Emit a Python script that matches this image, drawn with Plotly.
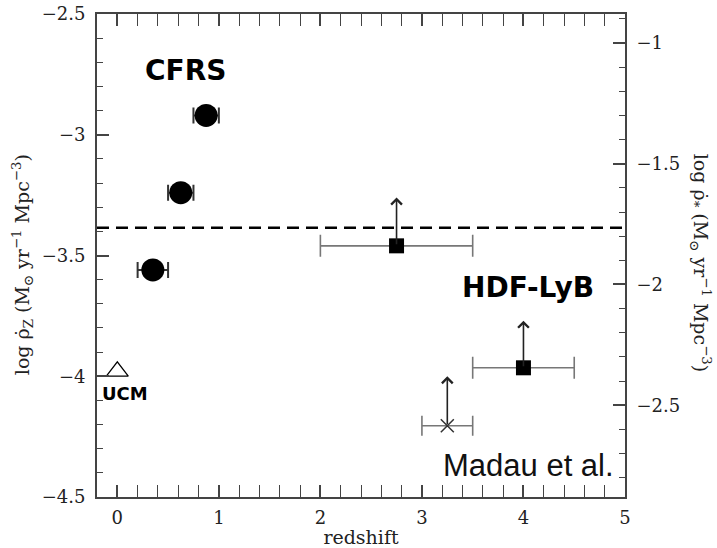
import plotly.graph_objects as go

# CFRS (Lilly et al.) redshift bins
cfrs_z = [0.35, 0.625, 0.875]
cfrs_zerr = [0.15, 0.125, 0.125]
cfrs_logrho = [-3.56, -3.24, -2.92]

# UCM local point
ucm_z = [0.0]
ucm_logrho = [-3.98]

# HDF Lyman-break lower limits
hdf_z = [2.75, 4.0]
hdf_zerr = [0.75, 0.5]
hdf_logrho = [-3.46, -3.965]
hdf_arrow_top = [-3.26, -3.77]

# extra lower limit (cross)
lim_z = [3.25]
lim_zerr = [0.25]
lim_logrho = [-4.205]
lim_arrow_top = [-4.0]

# horizontal dashed reference level
ref_level = -3.385

# conversion between the two vertical scales: log rho_* = log rho_Z + offset
scale_offset = 1.62
left_range = [-4.5, -2.5]
x_range = [-0.2, 5.0]

AX = "#444444"
TICKFONT = dict(family="DejaVu Serif", size=18, color="#222222")

fig = go.Figure()

fig.add_trace(go.Scatter(
    x=cfrs_z, y=cfrs_logrho, mode="markers",
    marker=dict(symbol="circle", size=23, color="black"),
    error_x=dict(type="data", array=cfrs_zerr, color="#333333", thickness=2, width=8),
    showlegend=False,
))

fig.add_trace(go.Scatter(
    x=ucm_z, y=ucm_logrho, mode="markers",
    marker=dict(symbol="triangle-up-open", size=19, color="black", line=dict(width=1.3, color="black")),
    showlegend=False,
))

fig.add_trace(go.Scatter(
    x=hdf_z, y=hdf_logrho, mode="markers",
    marker=dict(symbol="square", size=15, color="black"),
    error_x=dict(type="data", array=hdf_zerr, color="#777777", thickness=1.6, width=11),
    showlegend=False,
))

fig.add_trace(go.Scatter(
    x=lim_z, y=lim_logrho, mode="markers",
    marker=dict(symbol="x-thin", size=13, color="#333333", line=dict(width=1.5, color="#333333")),
    error_x=dict(type="data", array=lim_zerr, color="#777777", thickness=1.6, width=10),
    showlegend=False,
))

# invisible trace carrying the right-hand axis
fig.add_trace(go.Scatter(
    x=[x_range[0]], y=[left_range[0] + scale_offset], yaxis="y2",
    mode="markers", marker=dict(opacity=0), showlegend=False, hoverinfo="skip",
))

# lower-limit arrows
for xs, ys, tops in [(hdf_z, hdf_logrho, hdf_arrow_top), (lim_z, lim_logrho, lim_arrow_top)]:
    for x0, y0, y1 in zip(xs, ys, tops):
        fig.add_annotation(
            x=x0, y=y1, ax=x0, ay=y0, xref="x", yref="y", axref="x", ayref="y",
            text="", showarrow=True, arrowhead=4, arrowsize=1.3, arrowwidth=1.6,
            arrowcolor="#222222",
        )

fig.add_shape(
    type="line", xref="paper", x0=0, x1=1, yref="y", y0=ref_level, y1=ref_level,
    line=dict(color="black", width=2.5, dash="12px,7px"),
)

bold = dict(family="DejaVu Sans", color="black")
fig.add_annotation(x=0.67, y=-2.735, xref="x", yref="y", text="<b>CFRS</b>",
                   showarrow=False, font=dict(size=28, **bold))
fig.add_annotation(x=4.045, y=-3.632, xref="x", yref="y", text="<b>HDF-LyB</b>",
                   showarrow=False, font=dict(size=28, **bold))
fig.add_annotation(x=0.08, y=-4.073, xref="x", yref="y", text="<b>UCM</b>",
                   showarrow=False, font=dict(size=18, **bold))
fig.add_annotation(x=4.05, y=-4.37, xref="x", yref="y", text="Madau et al.",
                   showarrow=False, font=dict(family="Liberation Sans", size=31, color="#111111"))

titlefont = dict(family="DejaVu Serif", size=19, color="#222222")
fig.add_annotation(
    xref="paper", yref="paper", x=-0.142, y=0.48, xanchor="center", yanchor="middle",
    textangle=-90, showarrow=False,
    text="log ρ̇<sub>Z</sub> (M<sub>⊙</sub> yr<sup>−1</sup> Mpc<sup>−3</sup>)", font=titlefont,
)
fig.add_annotation(
    xref="paper", yref="paper", x=1.142, y=0.485, xanchor="center", yanchor="middle",
    textangle=90, showarrow=False,
    text="log ρ̇<sub>*</sub> (M<sub>⊙</sub> yr<sup>−1</sup> Mpc<sup>−3</sup>)", font=titlefont,
)

axis_common = dict(
    showline=True, linecolor=AX, linewidth=1.8, ticks="inside", ticklen=12,
    tickwidth=1.5, tickcolor=AX, showgrid=False, zeroline=False, tickfont=TICKFONT,
    automargin=False,
)

fig.update_layout(
    width=717, height=548,
    margin=dict(l=97, r=92, t=14, b=51),
    paper_bgcolor="white", plot_bgcolor="white",
    xaxis=dict(
        range=x_range, tick0=0, dtick=1, mirror="allticks", ticklabelstandoff=3,
        minor=dict(dtick=0.2, ticklen=6, tickcolor=AX, tickwidth=1.3, ticks="inside"),
        title=dict(text="redshift", font=titlefont, standoff=0),
        **axis_common,
    ),
    yaxis=dict(
        range=left_range, tick0=-4.5, dtick=0.5, ticklabelstandoff=6,
        minor=dict(dtick=0.1, ticklen=6, tickcolor=AX, tickwidth=1.3, ticks="inside"),
        **axis_common,
    ),
    yaxis2=dict(
        range=[left_range[0] + scale_offset, left_range[1] + scale_offset],
        overlaying="y", side="right", tick0=-1, dtick=0.5, ticklabelstandoff=6,
        minor=dict(dtick=0.1, ticklen=6, tickcolor=AX, tickwidth=1.3, ticks="inside"),
        **axis_common,
    ),
)

fig.write_html("out.html")
